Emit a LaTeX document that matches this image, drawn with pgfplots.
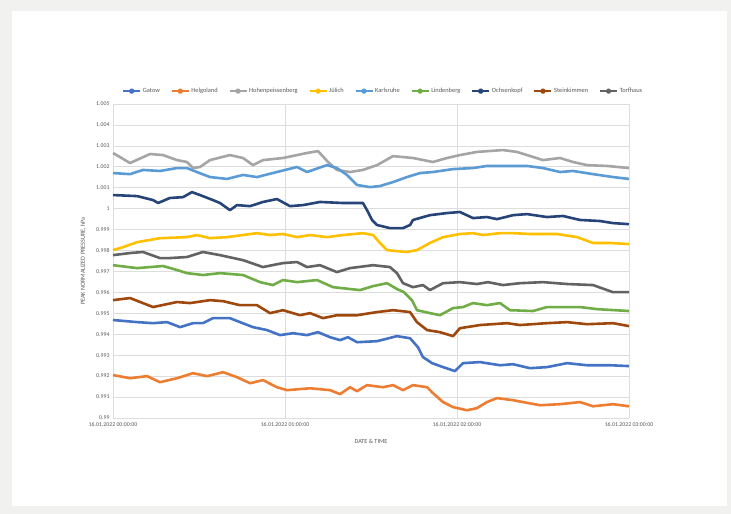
\documentclass[border=0pt]{standalone}
\usepackage{fontspec}
\setmainfont{Carlito}
\usepackage{pgfplots}
\pgfplotsset{compat=1.18}
\definecolor{bggray}{HTML}{F1F1EF}
\definecolor{txt}{HTML}{595959}
\definecolor{gridc}{HTML}{DDDDDD}
\definecolor{cGatow}{HTML}{4472C4}
\definecolor{cHelgo}{HTML}{ED7D31}
\definecolor{cHohen}{HTML}{A5A5A5}
\definecolor{cJuel}{HTML}{FFC000}
\definecolor{cKarls}{HTML}{5B9BD5}
\definecolor{cLinden}{HTML}{70AD47}
\definecolor{cOchsen}{HTML}{264478}
\definecolor{cStein}{HTML}{9E480E}
\definecolor{cTorf}{HTML}{636363}
\begin{document}
\begin{tikzpicture}[x=1pt,y=1pt]
\fill[bggray] (0,0) rectangle (731,514);
\fill[white] (12,8) rectangle (727,503);
\begin{axis}[
  at={(113pt,96pt)}, anchor=south west,
  scale only axis, width=516pt, height=314pt,
  xmin=0, xmax=3, ymin=0.99, ymax=1.005,
  xtick={0,1,2,3},
  xticklabels={16.01.2022 00:00:00,16.01.2022 01:00:00,16.01.2022 02:00:00,16.01.2022 03:00:00},
  ytick={0.99,0.991,0.992,0.993,0.994,0.995,0.996,0.997,0.998,0.999,1,1.001,1.002,1.003,1.004,1.005},
  yticklabels={0.99,0.991,0.992,0.993,0.994,0.995,0.996,0.997,0.998,0.999,1,1.001,1.002,1.003,1.004,1.005},
  grid=major,
  major grid style={gridc, line width=0.7pt},
  axis line style={draw=none},
  tick style={draw=none},
  ticklabel style={font=\fontsize{5.8}{6.5}\selectfont, text=txt},
  xticklabel style={yshift=-1pt},
  xlabel={DATE \& TIME},
  ylabel={PEAK NORMALIZED PRESSURE, hPa},
  label style={font=\fontsize{6.2}{7}\selectfont, text=txt},
  xlabel style={at={(axis description cs:0.5,-0.073)}, anchor=center},
  ylabel style={at={(axis description cs:-0.058,0.5)}, anchor=center, rotate=0},
  legend columns=9,
  legend style={at={(0.524,1.041)}, anchor=center, draw=none, fill=none,
    font=\fontsize{6.4}{7}\selectfont, text=txt,
    /tikz/every even column/.append style={column sep=9.2pt}},
  legend image code/.code={
    \draw[#1, line width=1.3pt] (0pt,0pt) -- (17pt,0pt);
    \fill[#1] (8.5pt,0pt) circle (1.6pt);
  },
  every axis plot/.append style={line width=2.6pt, mark=none, line join=round},
  clip=false,
]
% Gatow
\addplot[cGatow] coordinates {(0,0.99468)(0.140,0.99458)(0.233,0.99453)(0.314,0.99458)(0.390,0.99434)(0.465,0.99453)(0.523,0.99453)(0.581,0.99477)(0.680,0.99477)(0.738,0.99458)(0.814,0.99434)(0.895,0.99420)(0.971,0.99396)(1.047,0.99405)(1.128,0.99396)(1.192,0.99410)(1.262,0.99386)(1.320,0.99372)(1.366,0.99386)(1.419,0.99362)(1.535,0.99367)(1.651,0.99391)(1.727,0.99381)(1.773,0.99338)(1.802,0.99291)(1.855,0.99262)(1.919,0.99243)(1.988,0.99224)(2.035,0.99262)(2.134,0.99267)(2.250,0.99252)(2.326,0.99257)(2.424,0.99238)(2.523,0.99243)(2.640,0.99262)(2.756,0.99252)(2.890,0.99252)(3,0.99248)};
\addlegendentry{Gatow}
% Helgoland
\addplot[cHelgo] coordinates {(0,0.99205)(0.099,0.99190)(0.198,0.99200)(0.273,0.99171)(0.372,0.99190)(0.465,0.99214)(0.547,0.99200)(0.640,0.99219)(0.721,0.99195)(0.797,0.99166)(0.872,0.99181)(0.953,0.99147)(1.012,0.99133)(1.145,0.99142)(1.262,0.99133)(1.320,0.99114)(1.378,0.99147)(1.419,0.99128)(1.477,0.99157)(1.570,0.99147)(1.628,0.99157)(1.686,0.99133)(1.744,0.99157)(1.826,0.99147)(1.860,0.99119)(1.919,0.99076)(1.977,0.99052)(2.058,0.99037)(2.116,0.99047)(2.174,0.99076)(2.233,0.99095)(2.326,0.99085)(2.384,0.99076)(2.483,0.99061)(2.599,0.99066)(2.715,0.99076)(2.791,0.99056)(2.907,0.99066)(3,0.99056)};
\addlegendentry{Helgoland}
% Hohenpeissenberg
\addplot[cHohen] coordinates {(0,1.00266)(0.099,1.00218)(0.215,1.00261)(0.291,1.00256)(0.372,1.00232)(0.430,1.00223)(0.465,1.00194)(0.506,1.00199)(0.564,1.00232)(0.680,1.00256)(0.756,1.00242)(0.814,1.00208)(0.872,1.00232)(0.988,1.00242)(1.128,1.00266)(1.192,1.00275)(1.250,1.00223)(1.302,1.00185)(1.378,1.00175)(1.453,1.00185)(1.535,1.00208)(1.628,1.00251)(1.744,1.00242)(1.860,1.00223)(1.942,1.00242)(2.017,1.00256)(2.116,1.00271)(2.267,1.00280)(2.349,1.00271)(2.442,1.00247)(2.500,1.00232)(2.599,1.00242)(2.674,1.00223)(2.756,1.00208)(2.872,1.00204)(3,1.00194)};
\addlegendentry{Hohenpeissenberg}
% Juelich
\addplot[cJuel] coordinates {(0,0.99802)(0.058,0.99816)(0.140,0.99840)(0.273,0.99859)(0.430,0.99864)(0.488,0.99874)(0.564,0.99859)(0.663,0.99864)(0.756,0.99874)(0.837,0.99883)(0.913,0.99874)(0.988,0.99879)(1.070,0.99864)(1.145,0.99874)(1.244,0.99864)(1.337,0.99874)(1.453,0.99883)(1.512,0.99874)(1.552,0.99836)(1.593,0.99802)(1.651,0.99797)(1.709,0.99793)(1.767,0.99802)(1.843,0.99836)(1.919,0.99864)(2.017,0.99879)(2.093,0.99883)(2.151,0.99874)(2.250,0.99883)(2.326,0.99883)(2.424,0.99879)(2.581,0.99879)(2.698,0.99864)(2.791,0.99836)(2.890,0.99836)(3,0.99831)};
\addlegendentry{Jülich}
% Karlsruhe
\addplot[cKarls] coordinates {(0,1.00170)(0.099,1.00165)(0.174,1.00185)(0.273,1.00180)(0.372,1.00194)(0.430,1.00194)(0.488,1.00175)(0.564,1.00151)(0.663,1.00142)(0.756,1.00161)(0.837,1.00151)(0.953,1.00175)(1.070,1.00199)(1.128,1.00175)(1.244,1.00208)(1.302,1.00194)(1.360,1.00161)(1.419,1.00113)(1.494,1.00103)(1.552,1.00108)(1.628,1.00127)(1.709,1.00151)(1.785,1.00170)(1.860,1.00175)(1.977,1.00189)(2.093,1.00194)(2.174,1.00204)(2.326,1.00204)(2.407,1.00204)(2.500,1.00194)(2.599,1.00175)(2.674,1.00180)(2.791,1.00165)(2.907,1.00151)(3,1.00142)};
\addlegendentry{Karlsruhe}
% Lindenberg
\addplot[cLinden] coordinates {(0,0.99730)(0.140,0.99716)(0.291,0.99726)(0.372,0.99707)(0.430,0.99692)(0.523,0.99683)(0.622,0.99692)(0.756,0.99683)(0.855,0.99649)(0.930,0.99635)(0.988,0.99659)(1.070,0.99649)(1.186,0.99659)(1.279,0.99625)(1.436,0.99611)(1.512,0.99630)(1.593,0.99644)(1.651,0.99616)(1.692,0.99601)(1.738,0.99563)(1.767,0.99515)(1.843,0.99501)(1.901,0.99491)(1.977,0.99525)(2.035,0.99530)(2.093,0.99549)(2.174,0.99539)(2.250,0.99549)(2.308,0.99515)(2.442,0.99511)(2.523,0.99530)(2.715,0.99530)(2.814,0.99520)(3,0.99511)};
\addlegendentry{Lindenberg}
% Ochsenkopf
\addplot[cOchsen] coordinates {(0,1.00065)(0.140,1.00060)(0.233,1.00041)(0.262,1.00027)(0.331,1.00051)(0.407,1.00055)(0.459,1.00079)(0.506,1.00065)(0.581,1.00041)(0.622,1.00027)(0.680,0.99993)(0.721,1.00017)(0.797,1.00012)(0.872,1.00032)(0.953,1.00046)(1.029,1.00012)(1.105,1.00017)(1.203,1.00032)(1.337,1.00027)(1.453,1.00027)(1.477,0.99993)(1.506,0.99946)(1.535,0.99922)(1.610,0.99907)(1.686,0.99907)(1.727,0.99922)(1.744,0.99946)(1.843,0.99969)(1.942,0.99979)(2.017,0.99984)(2.093,0.99955)(2.174,0.99960)(2.233,0.99950)(2.326,0.99969)(2.407,0.99974)(2.523,0.99960)(2.616,0.99965)(2.715,0.99946)(2.831,0.99941)(2.907,0.99931)(3,0.99926)};
\addlegendentry{Ochsenkopf}
% Steinkimmen
\addplot[cStein] coordinates {(0,0.99563)(0.099,0.99573)(0.233,0.99530)(0.372,0.99554)(0.448,0.99549)(0.564,0.99563)(0.640,0.99558)(0.738,0.99539)(0.837,0.99539)(0.913,0.99501)(0.988,0.99515)(1.087,0.99491)(1.145,0.99501)(1.221,0.99477)(1.302,0.99491)(1.419,0.99491)(1.535,0.99506)(1.628,0.99515)(1.727,0.99506)(1.767,0.99458)(1.826,0.99420)(1.901,0.99410)(1.977,0.99391)(2.017,0.99429)(2.134,0.99444)(2.291,0.99453)(2.366,0.99444)(2.523,0.99453)(2.640,0.99458)(2.756,0.99448)(2.907,0.99453)(3,0.99439)};
\addlegendentry{Steinkimmen}
% Torfhaus
\addplot[cTorf] coordinates {(0,0.99778)(0.099,0.99788)(0.174,0.99793)(0.273,0.99764)(0.331,0.99764)(0.430,0.99769)(0.523,0.99793)(0.622,0.99778)(0.756,0.99754)(0.872,0.99721)(0.988,0.99740)(1.070,0.99745)(1.128,0.99721)(1.203,0.99730)(1.302,0.99697)(1.378,0.99716)(1.512,0.99730)(1.610,0.99721)(1.651,0.99692)(1.686,0.99644)(1.744,0.99625)(1.802,0.99635)(1.843,0.99611)(1.919,0.99644)(2.017,0.99649)(2.116,0.99640)(2.180,0.99649)(2.267,0.99635)(2.366,0.99644)(2.500,0.99649)(2.640,0.99640)(2.791,0.99635)(2.907,0.99601)(3,0.99601)};
\addlegendentry{Torfhaus}
\end{axis}
\end{tikzpicture}
\end{document}
